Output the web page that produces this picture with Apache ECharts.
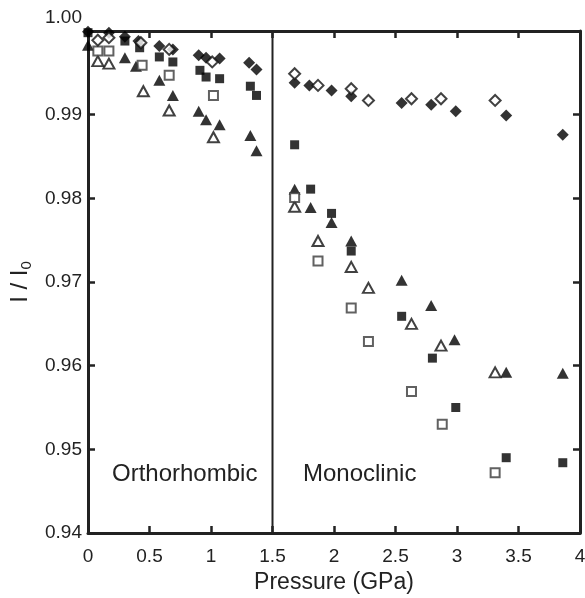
<!DOCTYPE html>
<html>
<head>
<meta charset="utf-8">
<script src="https://cdn.jsdelivr.net/npm/echarts@6/dist/echarts.min.js"></script>
<style>
  html, body { margin: 0; padding: 0; background: #fff; }
  #chart { width: 585px; height: 598px; }
</style>
</head>
<body>
<div id="chart"></div>
<script>
// pressure (GPa), I/I0 pairs
const filledDiamond = [
    [0, 0.9999], [0.17, 0.9998], [0.30, 0.9993], [0.41, 0.9988], [0.58, 0.9982],
    [0.69, 0.9978], [0.90, 0.9971], [0.96, 0.9968], [1.07, 0.9967], [1.31, 0.9962],
    [1.37, 0.9954], [1.68, 0.9938], [1.80, 0.9935], [1.98, 0.9929], [2.14, 0.9922],
    [2.55, 0.9914], [2.79, 0.9912], [2.99, 0.9904], [3.40, 0.9899], [3.86, 0.9876]
];
const openDiamond = [
    [0.08, 0.9989], [0.17, 0.9992], [0.43, 0.9986], [0.66, 0.9978], [1.01, 0.9963],
    [1.68, 0.9949], [1.87, 0.9935], [2.14, 0.9931], [2.28, 0.9917], [2.63, 0.9919],
    [2.87, 0.9919], [3.31, 0.9917]
];
const filledSquare = [
    [0, 0.9998], [0.30, 0.9988], [0.42, 0.9980], [0.58, 0.9969], [0.69, 0.9963],
    [0.91, 0.9953], [0.96, 0.9945], [1.07, 0.9943], [1.32, 0.9934], [1.37, 0.9923],
    [1.68, 0.9864], [1.81, 0.9811], [1.98, 0.9782], [2.14, 0.9737], [2.55, 0.9659],
    [2.80, 0.9609], [2.99, 0.9550], [3.40, 0.9490], [3.86, 0.9484]
];
const openSquare = [
    [0.08, 0.9976], [0.17, 0.9976], [0.44, 0.9959], [0.66, 0.9947], [1.02, 0.9923],
    [1.68, 0.9801], [1.87, 0.9725], [2.14, 0.9669], [2.28, 0.9629], [2.63, 0.9569],
    [2.88, 0.9530], [3.31, 0.9472]
];
const filledTriangle = [
    [0, 0.9983], [0.30, 0.9968], [0.39, 0.9958], [0.58, 0.9941], [0.69, 0.9923],
    [0.90, 0.9904], [0.96, 0.9894], [1.07, 0.9888], [1.32, 0.9875], [1.37, 0.9857],
    [1.68, 0.9811], [1.81, 0.9789], [1.98, 0.9771], [2.14, 0.9749], [2.55, 0.9702],
    [2.79, 0.9672], [2.98, 0.9631], [3.40, 0.9592], [3.86, 0.9591]
];
const openTriangle = [
    [0.08, 0.9964], [0.17, 0.9961], [0.45, 0.9928], [0.66, 0.9905], [1.02, 0.9873],
    [1.68, 0.9790], [1.87, 0.9749], [2.14, 0.9718], [2.28, 0.9693], [2.63, 0.9650],
    [2.87, 0.9624], [3.31, 0.9592]
];
const phaseBoundary = 1.5;
const phaseNames = ['Orthorhombic', 'Monoclinic'];

const ink = '#222';
const font = 'Liberation Sans, Arial, sans-serif';

function axisCommon() {
    return {
        axisLine: { show: true, onZero: false, lineStyle: { color: ink, width: 3 } },
        axisTick: { show: true, inside: true, length: 7, lineStyle: { color: ink, width: 2.5 } },
        splitLine: { show: false }
    };
}

const chart = echarts.init(document.getElementById('chart'));

const option = {
    backgroundColor: '#fff',
    animation: false,
    grid: { left: 88, right: 5, top: 31, bottom: 65, outerBoundsMode: 'none', containLabel: false },
    xAxis: [
        Object.assign({
            type: 'value', min: 0, max: 4, interval: 0.5, position: 'bottom',
            name: 'Pressure (GPa)', nameLocation: 'middle', nameGap: 32,
            nameTextStyle: { fontSize: 23, color: ink, fontFamily: font },
            axisLabel: { fontSize: 19, color: ink, fontFamily: font, margin: 14 }
        }, axisCommon()),
        Object.assign({
            type: 'value', min: 0, max: 4, interval: 0.5, position: 'top',
            axisLabel: { show: false }
        }, axisCommon())
    ],
    yAxis: [
        Object.assign({
            type: 'value', min: 0.94, max: 1.00, interval: 0.01, position: 'left',
            name: '{a|I / I}{b|0}', nameLocation: 'middle', nameGap: 42, nameRotate: 90,
            nameTextStyle: {
                color: ink, fontFamily: font,
                rich: {
                    a: { fontSize: 24, color: ink, fontFamily: font },
                    b: { fontSize: 15, color: ink, fontFamily: font, verticalAlign: 'bottom', padding: [12, 0, 0, 0] }
                }
            },
            axisLabel: {
                fontSize: 19, color: ink, fontFamily: font, margin: 6,
                formatter: function (v) {
                    return Math.abs(v - 1) < 1e-9 ? '{top|1.00}' : v.toFixed(2);
                },
                rich: { top: { fontSize: 19, color: ink, fontFamily: font, padding: [0, 0, 26, 0] } }
            }
        }, axisCommon()),
        Object.assign({
            type: 'value', min: 0.94, max: 1.00, interval: 0.01, position: 'right',
            axisLabel: { show: false }
        }, axisCommon())
    ],
    series: [
        {
            type: 'line', data: [[phaseBoundary, 0.94], [phaseBoundary, 1.00]],
            symbol: 'none', lineStyle: { color: ink, width: 2 }, z: 1, silent: true
        },
        {
            type: 'scatter', data: filledTriangle, symbol: 'triangle', symbolSize: [12, 11],
            itemStyle: { color: '#000' }
        },
        {
            type: 'scatter', data: openTriangle, symbol: 'triangle', symbolSize: [11, 10],
            itemStyle: { color: '#fff', borderColor: '#111', borderWidth: 2 }
        },
        {
            type: 'scatter', data: filledSquare, symbol: 'rect', symbolSize: 9,
            itemStyle: { color: '#000' }
        },
        {
            type: 'scatter', data: openSquare, symbol: 'rect', symbolSize: 9,
            itemStyle: { color: '#fff', borderColor: '#3a3a3a', borderWidth: 2 }
        },
        {
            type: 'scatter', data: filledDiamond, symbol: 'diamond', symbolSize: 12,
            itemStyle: { color: '#000' }
        },
        {
            type: 'scatter', data: openDiamond, symbol: 'diamond', symbolSize: 11,
            itemStyle: { color: '#fff', borderColor: '#111', borderWidth: 2 }
        }
    ],
    graphic: [
        {
            type: 'text', left: 112, top: 462,
            style: { text: phaseNames[0], fontSize: 24, fill: ink, fontFamily: font }
        },
        {
            type: 'text', left: 303, top: 462,
            style: { text: phaseNames[1], fontSize: 24, fill: ink, fontFamily: font }
        }
    ]
};

chart.setOption(option);
</script>
</body>
</html>
